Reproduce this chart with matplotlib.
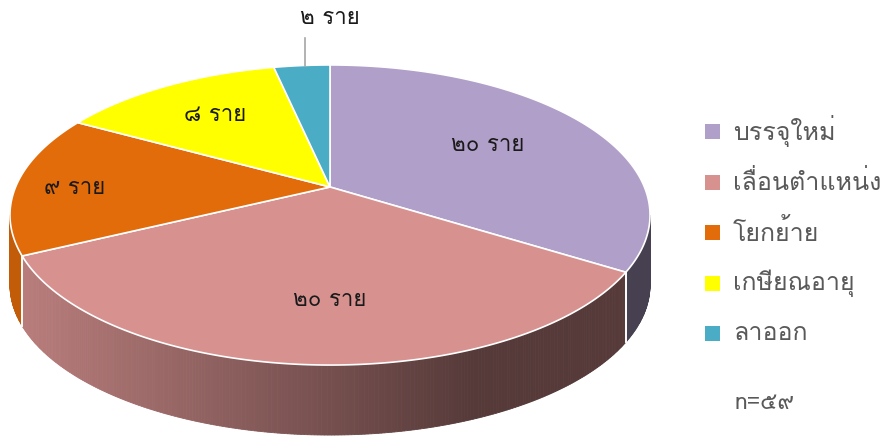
import numpy as np
import matplotlib.pyplot as plt
from matplotlib import font_manager
from matplotlib.patches import Polygon, Rectangle
from fontTools.ttLib import TTFont

# data
categories = ['บรรจุใหม่', 'เลื่อนตำแหน่ง', 'โยกย้าย', 'เกษียณอายุ', 'ลาออก']
values = [20, 20, 9, 8, 2]
slice_labels = ['๒๐ ราย', '๒๐ ราย', '๙ ราย', '๘ ราย', '๒ ราย']
colors = ['#B09FC8', '#D79290', '#E26B0A', '#FFFF00', '#4BACC6']
total_label = 'n=๕๙'


def thai_font():
    # pick any installed family that has Thai letters and digits
    for f in font_manager.fontManager.ttflist:
        try:
            cmap = TTFont(f.fname, fontNumber=0, lazy=True).getBestCmap()
        except Exception:
            continue
        if cmap and 0x0E23 in cmap and 0x0E52 in cmap:
            return f.name
    return 'DejaVu Sans'


plt.rcParams['font.family'] = [thai_font(), 'DejaVu Sans']

# perspective disc: centre, half width, tilt, wall height (pixels)
cx, cy = 330, 187
k = 0.1867
a, b = 314.4, 109.9
depth = 70


def proj(deg):
    t = np.radians(deg)
    x, y = np.cos(t), np.sin(t)
    d = 1 + k * y
    return cx + a * x / d, (cy - b * y) / d


def shade(hexcol, u):
    f = np.interp(u, [20, 470], [0.86, 0.40])
    r, g, bl = [int(hexcol[i:i + 2], 16) / 255 for i in (1, 3, 5)]
    return (r * f, g * f, bl * f)


fig = plt.figure(figsize=(8.89, 4.36), dpi=100)
ax = fig.add_axes([0, 0, 1, 1])
ax.set_xlim(0, 889)
ax.set_ylim(436, 0)
ax.axis('off')

angles = 360 * np.cumsum([0] + values) / sum(values)
starts = 90 - angles[:-1]
ends = 90 - angles[1:]

# visible part of the wall lies between the two side extremes
lo = 180 + np.degrees(np.arcsin(k))
hi = 360 - np.degrees(np.arcsin(k))

for s, e, col in zip(starts, ends, colors):
    s2, e2 = s % 360, e % 360
    if s2 <= e2:
        s2 += 360
    # slice covers e2 .. s2
    for off in (0, 360, -360):
        w0, w1 = max(e2 + off, lo), min(s2 + off, hi)
        if w1 <= w0:
            continue
        ts = np.linspace(w0, w1, int((w1 - w0) * 2) + 2)
        for t0, t1 in zip(ts[:-1], ts[1:]):
            u0, v0 = proj(t0)
            u1, v1 = proj(t1)
            c = shade(col, (u0 + u1) / 2)
            ax.add_patch(Polygon([(u0, v0), (u1, v1), (u1, v1 + depth), (u0, v0 + depth)],
                                 closed=True, facecolor=c, edgecolor=c, lw=0.6))
        for t in (w0, w1):
            if lo < t < hi:
                u, v = proj(t)
                ax.plot([u, u], [v, v + depth], color='white', lw=1.2)

# top faces
for s, e, col in zip(starts, ends, colors):
    ts = np.linspace(s, e, 200)
    pts = [(cx, cy)] + [proj(t) for t in ts]
    ax.add_patch(Polygon(pts, closed=True, facecolor=col, edgecolor='white', lw=1.2))

# slice labels
label_pos = [(488, 145), (330, 300), (75, 188), (215, 115), (330, 18)]
for (x, y), txt in zip(label_pos, slice_labels):
    ax.text(x, y, txt, fontsize=16, ha='center', va='center', color='#1a1a1a')
ax.plot([305, 305], [38, 66], color='#A6A6A6', lw=1.2)

# legend
leg_y = [131, 182, 232, 283, 333]
for y, txt, col in zip(leg_y, categories, colors):
    ax.add_patch(Rectangle((705, y - 7.5), 15, 15, facecolor=col, edgecolor='none'))
    ax.text(733, y, txt, fontsize=18, ha='left', va='center', color='#595959')
ax.text(735, 403, total_label, fontsize=16.5, ha='left', va='center', color='#595959')

fig.savefig('out.png', dpi=100)
